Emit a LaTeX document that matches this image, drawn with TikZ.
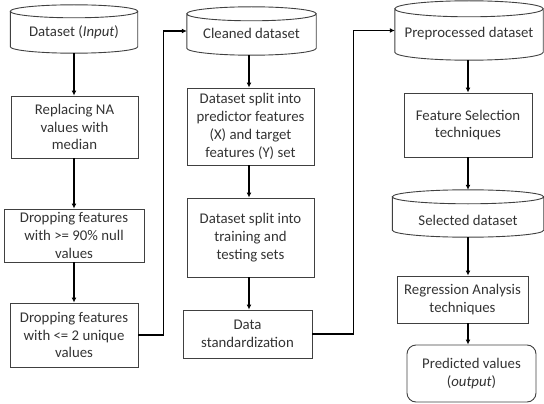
\documentclass[tikz,border=0pt]{standalone}
\usepackage{fontspec}
\setmainfont{Carlito}
\usetikzlibrary{arrows.meta,calc}
\definecolor{txt}{HTML}{333333}
\definecolor{brd}{HTML}{404040}
\tikzset{
  base/.style={font=\fontsize{14.8}{17.8}\selectfont, text=txt, align=center, inner sep=0pt},
  procbox/.style={base, draw=brd, line width=0.9pt},
  cylnode/.style={base, text depth=4pt},
  endbox/.style={procbox, rounded corners=9pt},
  arr/.style={draw=black, line width=1.8pt, -{Latex[length=5pt,width=5pt]}},
  cylline/.style={draw=brd, line width=0.9pt}
}
\newcommand\drawcyl[2]{%
  \draw[cylline] let \p1=(#1.north west), \p2=(#1.south east), \n1={(\x2-\x1)/2} in
    (\x1,\y1-#2) -- (\x1,\y2+#2)
    arc[start angle=180, end angle=360, x radius=\n1, y radius=#2]
    -- (\x2,\y1-#2)
    (\x1+\n1,\y1-#2) ellipse[x radius=\n1, y radius=#2];}
\begin{document}
\begin{tikzpicture}[x=1pt,y=-1pt]
\useasboundingbox (0,0) rectangle (544,404);
% column 1
\node[cylnode, text height=19.5pt, minimum width=127pt, minimum height=48pt] (c1) at (74,29) {Dataset (\textit{Input})};
\drawcyl{c1}{6.5pt}
\node[procbox, minimum width=127pt, minimum height=62pt] (b1) at (74.5,127) {Replacing NA\\values with\\median};
\node[procbox, minimum width=140pt, minimum height=53pt] (b2) at (74,235.5) {Dropping features\\with >= 90\% null\\values};
\node[procbox, minimum width=128pt, minimum height=64pt] (b3) at (74,335) {Dropping features\\with <= 2 unique\\values};
% column 2
\node[cylnode, text height=18.5pt, minimum width=129pt, minimum height=48pt] (c2) at (251.5,31) {Cleaned dataset};
\drawcyl{c2}{7pt}
\node[procbox, minimum width=127pt, minimum height=77pt] (b4) at (250.5,126.5) {Dataset split into\\predictor features\\(X) and target\\features (Y) set};
\node[procbox, minimum width=127pt, minimum height=79pt] (b5) at (250.5,237.5) {Dataset split into\\training and\\testing sets};
\node[procbox, minimum width=129pt, minimum height=48pt] (b6) at (247.5,334) {Data\\standardization};
% column 3
\node[cylnode, text height=18.5pt, minimum width=148pt, minimum height=59pt] (c3) at (469,30.5) {Preprocessed dataset};
\drawcyl{c3}{8pt}
\node[procbox, minimum width=128pt, minimum height=64pt] (b7) at (468,125) {Feature Selection\\techniques};
\node[cylnode, text height=27pt, minimum width=151pt, minimum height=47pt] (c4) at (468,213.5) {Selected dataset};
\drawcyl{c4}{7pt}
\node[procbox, minimum width=131pt, minimum height=47pt] (b8) at (462.5,299.5) {Regression Analysis\\techniques};
\node[endbox, minimum width=129pt, minimum height=57pt] (b9) at (471.5,373.5) {Predicted values\\(\textit{output})};
% connectors
\draw[arr] (c1.south) -- (c1.south |- b1.north);
\draw[arr] (c1.south |- b1.south) -- (c1.south |- b2.north);
\draw[arr] (b2.south) -- (b2.south |- b3.north);
\draw[arr] (b3.east) -- ++(25,0) |- (c2.west);
\draw[arr] ([xshift=-2.5pt]c2.south) -- ([xshift=-2.5pt]c2.south |- b4.north);
\draw[arr] ([xshift=-1.5pt]b4.south) -- ([xshift=-1.5pt]b4.south |- b5.north);
\draw[arr] ([xshift=-1.5pt]b5.south) -- ([xshift=-1.5pt]b5.south |- b6.north);
\draw[arr] (b6.east) -- ++(41,0) |- (c3.west);
\draw[arr] ([xshift=-1pt]c3.south) -- ([xshift=-1pt]c3.south |- b7.north);
\draw[arr] (b7.south) -- (b7.south |- c4.north);
\draw[arr] (c4.south) -- (c4.south |- b8.north);
\draw[arr] (c4.south |- b8.south) -- (c4.south |- b9.north);
\end{tikzpicture}
\end{document}
